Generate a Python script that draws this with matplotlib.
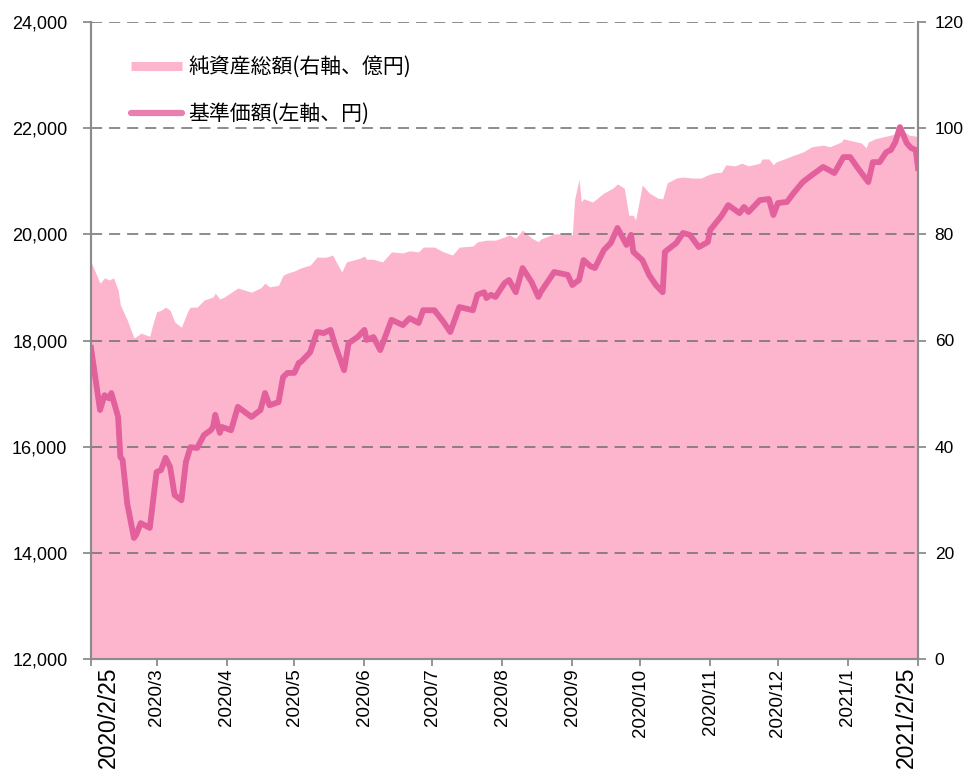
import pandas as pd
import matplotlib
matplotlib.use("Agg")
import matplotlib.pyplot as plt
from matplotlib.lines import Line2D
from matplotlib.ticker import FuncFormatter

plt.rcParams['font.family'] = ['Liberation Sans', 'Noto Sans CJK JP', 'DejaVu Sans']
plt.rcParams['lines.scale_dashes'] = False

start = pd.Timestamp('2020-02-25')
end = pd.Timestamp('2021-02-25')

# 基準価額 (左軸、円): days since 2020/2/25, value
nav_days = [0, 4, 6, 8, 9, 12, 13, 14, 16, 19, 20, 22, 26, 27, 29, 31, 33, 35, 37, 40,
            42, 44, 47, 50, 53, 54, 55, 57, 58, 62, 65, 71, 75, 77, 79, 83, 85, 87, 90, 92,
            93, 97, 100, 103, 106, 108, 112, 114, 118, 121, 122, 125, 128, 133, 138, 141, 145, 147, 152, 156,
            159, 163, 169, 171, 174, 175, 177, 179, 183, 185, 188, 191, 195, 198, 199, 205, 211, 213, 216, 218,
            221, 223, 227, 230, 233, 237, 239, 240, 244, 247, 250, 253, 254, 259, 262, 265, 269, 273, 274, 279,
            282, 287, 289, 291, 296, 300, 302, 304, 308, 311, 315, 319, 324, 329, 333, 336, 339, 344, 346, 349,
            352, 354, 356, 358, 361, 363, 365, 366]
nav = [17860, 16690, 16970, 16910, 17010, 16560, 15805, 15750, 14940, 14280, 14340, 14560, 14470, 14810, 15520, 15560, 15790, 15620, 15090, 14990,
       15710, 15990, 15975, 16220, 16310, 16370, 16600, 16260, 16370, 16310, 16750, 16560, 16690, 17010, 16780, 16840, 17310, 17390, 17390, 17580,
       17600, 17780, 18160, 18140, 18200, 17915, 17440, 17950, 18065, 18200, 18010, 18065, 17820, 18390, 18290, 18420, 18330, 18570, 18570, 18350,
       18160, 18630, 18570, 18860, 18910, 18800, 18860, 18820, 19080, 19140, 18910, 19365, 19100, 18820, 18910, 19290, 19235, 19045, 19140, 19515,
       19400, 19365, 19705, 19835, 20120, 19800, 19990, 19670, 19515, 19235, 19045, 18910, 19670, 19835, 20025, 19990, 19760, 19855, 20080, 20345,
       20550, 20400, 20515, 20420, 20645, 20665, 20365, 20590, 20610, 20780, 20985, 21115, 21270, 21155, 21455, 21455, 21270, 20985, 21360, 21360,
       21550, 21590, 21740, 22020, 21720, 21625, 21590, 21250]

# 純資産総額 (右軸、億円)
aum_days = [0, 4, 6, 8, 10, 12, 13, 16, 19, 21, 22, 26, 27, 29, 31, 33, 35, 37, 40, 43,
            44, 47, 50, 54, 55, 57, 59, 65, 71, 75, 77, 79, 83, 85, 87, 90, 93, 97, 100, 104,
            107, 108, 111, 113, 119, 121, 122, 125, 129, 133, 138, 141, 145, 147, 152, 156, 160, 163, 169, 171,
            175, 179, 183, 185, 188, 191, 195, 198, 199, 205, 212, 213, 214, 216, 217, 218, 222, 227, 231, 233,
            236, 238, 240, 241, 244, 247, 251, 253, 255, 259, 262, 266, 270, 273, 276, 279, 281, 285, 288, 291,
            296, 297, 300, 302, 303, 308, 311, 315, 319, 324, 327, 332, 333, 337, 341, 343, 344, 347, 352, 356,
            358, 362, 365, 366]
aum = [74.8, 70.8, 71.8, 71.4, 71.8, 69.5, 66.7, 63.9, 60.5, 61.0, 61.4, 60.8, 62.5, 65.4, 65.7, 66.3, 65.7, 63.5, 62.5, 65.7,
       66.3, 66.3, 67.6, 68.2, 68.9, 67.8, 68.2, 69.9, 69.1, 69.9, 70.8, 70.1, 70.4, 72.3, 72.7, 73.1, 73.7, 74.2, 75.7, 75.7,
       76.1, 75.2, 72.9, 74.8, 75.5, 75.9, 75.3, 75.3, 74.8, 76.7, 76.5, 76.9, 76.7, 77.6, 77.6, 76.7, 76.1, 77.6, 77.8, 78.6,
       78.9, 78.9, 79.5, 79.9, 79.3, 80.8, 79.3, 78.6, 79.1, 80.1, 80.1, 79.9, 86.5, 90.4, 86.1, 86.7, 86.1, 87.8, 88.7, 89.5,
       88.7, 83.6, 83.6, 82.7, 89.3, 87.8, 86.8, 86.7, 89.7, 90.6, 90.8, 90.6, 90.6, 91.2, 91.6, 91.7, 93.1, 92.9, 93.4, 92.9,
       93.4, 94.2, 94.2, 93.1, 93.6, 94.4, 94.9, 95.5, 96.5, 96.8, 96.5, 97.4, 98.0, 97.6, 97.2, 96.3, 97.4, 98.0, 98.5, 98.9,
       100.0, 98.7, 98.5, 98.1]

month_ticks = ['2020-03-25', '2020-04-25', '2020-05-25', '2020-06-25', '2020-07-25', '2020-08-25',
               '2020-09-25', '2020-10-25', '2020-11-25', '2020-12-25', '2021-01-25']
month_labels = ['2020/3', '2020/4', '2020/5', '2020/6', '2020/7', '2020/8',
                '2020/9', '2020/10', '2020/11', '2020/12', '2021/1']

nav_x = start + pd.to_timedelta(nav_days, unit='D')
aum_x = start + pd.to_timedelta(aum_days, unit='D')

area_color = '#FDB5CE'
line_color = '#E2609B'
axis_color = '#8c8c8c'

fig = plt.figure(figsize=(9.69, 7.73), dpi=100)
ax = fig.add_axes([91 / 969, 1 - 659 / 773, 827 / 969, 637 / 773])
ax2 = ax.twinx()

ax2.fill_between(aum_x, aum, 0, color=area_color, lw=0)
ax.plot(nav_x, nav, color=line_color, lw=4.2, solid_joinstyle='round')

ax.set_zorder(ax2.get_zorder() + 1)
ax.patch.set_visible(False)

ax.set_xlim(start, end)
ax.set_ylim(12000, 24000)
ax2.set_ylim(0, 120)
ax.set_yticks(range(12000, 24001, 2000))
ax2.set_yticks(range(0, 121, 20))
ax.yaxis.set_major_formatter(FuncFormatter(lambda v, p: f'{v:,.0f}'))

ax.yaxis.grid(True, color='#707070', alpha=0.8, lw=1.4, ls=(0, (8, 5)))
ax.set_axisbelow(True)

ax.set_xticks(pd.to_datetime([start] + month_ticks + [end]))
ax.set_xticklabels([''] + month_labels + [''], rotation=90, fontsize=13.5, va='top')
ax.tick_params(axis='x', length=5, width=1.3, color=axis_color, pad=2)
ax.tick_params(axis='y', length=6, width=1.3, color=axis_color, labelsize=13, pad=11)
ax2.tick_params(axis='y', length=6, width=1.3, color=axis_color, labelsize=12.5, pad=6)

for a in (ax, ax2):
    a.spines['top'].set_visible(False)
    for s in ('left', 'right', 'bottom'):
        a.spines[s].set_color(axis_color)
        a.spines[s].set_linewidth(1.5)

# 端の日付ラベル
ax.text(108 / 969, 1 - 667 / 773, '2020/2/25', transform=fig.transFigure, rotation=90,
        ha='center', va='top', fontsize=16.5)
ax.text(906 / 969, 1 - 667 / 773, '2021/2/25', transform=fig.transFigure, rotation=90,
        ha='center', va='top', fontsize=16.5)

handles = [Line2D([], [], color=area_color, lw=6.5, solid_capstyle='butt'),
           Line2D([], [], color=line_color, lw=4.5, solid_capstyle='round', alpha=0.8)]
labels = ['純資産総額(右軸、億円)', '基準価額(左軸、円)']
leg = ax.legend(handles, labels, loc='upper left', bbox_to_anchor=(131 / 969, 1 - 56 / 773),
                bbox_transform=fig.transFigure, frameon=False, handlelength=2.45,
                handletextpad=0.3, labelspacing=1.2, borderpad=0, borderaxespad=0,
                prop={'family': ['Noto Sans CJK JP', 'DejaVu Sans'], 'size': 15})

fig.savefig('out.png', dpi=100)
